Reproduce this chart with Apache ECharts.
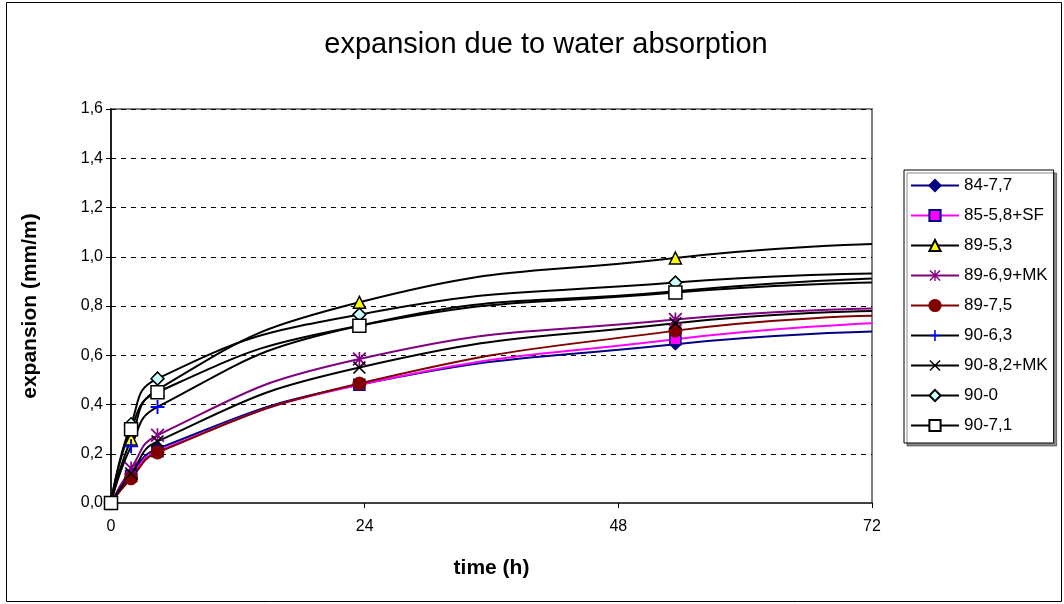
<!DOCTYPE html>
<html>
<head>
<meta charset="utf-8">
<script src="https://cdn.jsdelivr.net/npm/echarts@6/dist/echarts.min.js"></script>
<style>
  html, body { margin: 0; padding: 0; background: #fff; }
  #chart { width: 1064px; height: 604px; }
</style>
</head>
<body>
<div id="chart"></div>
<script>
// time of each measurement (h); the last one sits on the right edge, no marker
const times = [0, 1.9, 4.4, 23.5, 53.4, 72];

const s84_77 = [0, 0.12, 0.22, 0.48, 0.645, 0.696];
const s85_58SF = [0, 0.11, 0.21, 0.48, 0.665, 0.73];
const s89_53 = [0, 0.26, 0.46, 0.815, 0.995, 1.052];
const s89_69MK = [0, 0.14, 0.275, 0.585, 0.745, 0.79];
const s89_75 = [0, 0.10, 0.205, 0.485, 0.70, 0.76];
const s90_63 = [0, 0.23, 0.39, 0.72, 0.86, 0.912];
const s90_82MK = [0, 0.12, 0.25, 0.55, 0.73, 0.78];
const s90_0 = [0, 0.32, 0.505, 0.765, 0.895, 0.932];
const s90_71 = [0, 0.30, 0.45, 0.72, 0.855, 0.895];

const yTicks = [0, 0.2, 0.4, 0.6, 0.8, 1.0, 1.2, 1.4, 1.6];
const xTicks = [0, 24, 48, 72];

// marker shapes excel has and echarts doesn't
const PLUS = "path://M4.3,0 H5.7 V4.3 H10 V5.7 H5.7 V10 H4.3 V5.7 H0 V4.3 H4.3 Z";
const CROSS = "path://M0,0.9 L0.9,0 L10,9.1 L9.1,10 Z M9.1,0 L10,0.9 L0.9,10 L0,9.1 Z";
const STAR = "path://M0,0.9 L0.9,0 L10,9.1 L9.1,10 Z M9.1,0 L10,0.9 L0.9,10 L0,9.1 Z M4.4,0 H5.6 V10 H4.4 Z";

const pts = (vals) =>
  vals.map((v, i) => {
    const p = { value: [times[i], v] };
    if (i === times.length - 1) p.symbol = "none";
    return p;
  });

const mk = (name, vals, line, symbol, size, fill, border, bw) => ({
  name,
  type: "line",
  data: pts(vals),
  smooth: 0.5,
  symbol,
  symbolSize: size,
  showAllSymbol: true,
  lineStyle: { color: line, width: 2 },
  itemStyle: { color: fill, borderColor: border, borderWidth: bw, opacity: 1 },
  emphasis: { disabled: true },
});

const series = [
  mk("84-7,7", s84_77, "#000080", "diamond", 12, "#000080", "#000080", 1),
  mk("85-5,8+SF", s85_58SF, "#ff00ff", "rect", 11, "#ff00ff", "#000080", 1.5),
  mk("89-5,3", s89_53, "#000000", "triangle", 12, "#ffff00", "#000000", 1.5),
  mk("89-6,9+MK", s89_69MK, "#800080", STAR, 14, "#800080", "#800080", 0),
  mk("89-7,5", s89_75, "#800000", "circle", 13, "#800000", "#800000", 1),
  mk("90-6,3", s90_63, "#000000", PLUS, 14, "#0000ff", "#0000ff", 0),
  mk("90-8,2+MK", s90_82MK, "#000000", CROSS, 13, "#000000", "#000000", 0),
  mk("90-0", s90_0, "#000000", "diamond", 13, "#ccffff", "#000000", 1.5),
  mk("90-7,1", s90_71, "#000000", "rect", 13, "#ffffff", "#000000", 1.5),
];

const font = "Liberation Sans, Arial, sans-serif";
const myChart = echarts.init(document.getElementById("chart"));

const options = {
  animation: false,
  backgroundColor: "#ffffff",
  textStyle: { fontFamily: font },
  title: {
    text: "expansion due to water absorption",
    left: 541,
    textAlign: "center",
    top: 25,
    textStyle: { fontFamily: font, fontSize: 29, fontWeight: "normal", color: "#000" },
  },
  legend: {
    orient: "vertical",
    left: 904,
    top: 170,
    itemWidth: 48,
    itemHeight: 14,
    itemGap: 13,
    padding: [7, 6, 9, 6],
    backgroundColor: "#ffffff",
    borderColor: "#000000",
    borderWidth: 1,
    shadowColor: "rgba(0,0,0,0.45)",
    shadowOffsetX: 3,
    shadowOffsetY: 3,
    shadowBlur: 0,
    textStyle: { fontFamily: font, fontSize: 17, color: "#000" },
    data: series.map((s) => s.name),
  },
  grid: {
    left: 111,
    right: 192,
    top: 109,
    bottom: 101,
    show: true,
    borderColor: "#808080",
    borderWidth: 2,
    backgroundColor: "#ffffff",
  },
  xAxis: {
    type: "value",
    min: 0,
    max: 72,
    interval: 24,
    name: "time (h)",
    nameLocation: "middle",
    nameGap: 55,
    nameTextStyle: { fontFamily: font, fontSize: 21, fontWeight: "bold", color: "#000" },
    axisLine: { lineStyle: { color: "#404040", width: 2 } },
    axisTick: { show: true, length: 5, lineStyle: { color: "#000" } },
    axisLabel: {
      fontSize: 16,
      color: "#000",
      margin: 16,
      formatter: (v) => (xTicks.includes(v) ? String(v) : ""),
    },
    splitLine: { show: false },
  },
  yAxis: {
    type: "value",
    min: 0,
    max: 1.6,
    interval: 0.2,
    name: "expansion (mm/m)",
    nameLocation: "middle",
    nameGap: 70,
    nameTextStyle: { fontFamily: font, fontSize: 21, fontWeight: "bold", color: "#000" },
    axisLine: { show: true, lineStyle: { color: "#000", width: 1.5 } },
    axisTick: { show: true, length: 5, lineStyle: { color: "#000" } },
    axisLabel: {
      fontSize: 16,
      color: "#000",
      margin: 8,
      formatter: (v) => {
        const t = yTicks.find((k) => Math.abs(k - v) < 1e-6);
        return t === undefined ? "" : t.toFixed(1).replace(".", ",");
      },
    },
    splitLine: { show: true, lineStyle: { color: "#000", type: [5, 5], width: 1 } },
  },
  graphic: [
    {
      type: "rect",
      z: -10,
      shape: { x: 6.5, y: 2.5, width: 1055, height: 599 },
      style: { fill: null, stroke: "#000", lineWidth: 1 },
      silent: true,
    },
  ],
  series,
};

myChart.setOption(options);
</script>
</body>
</html>
